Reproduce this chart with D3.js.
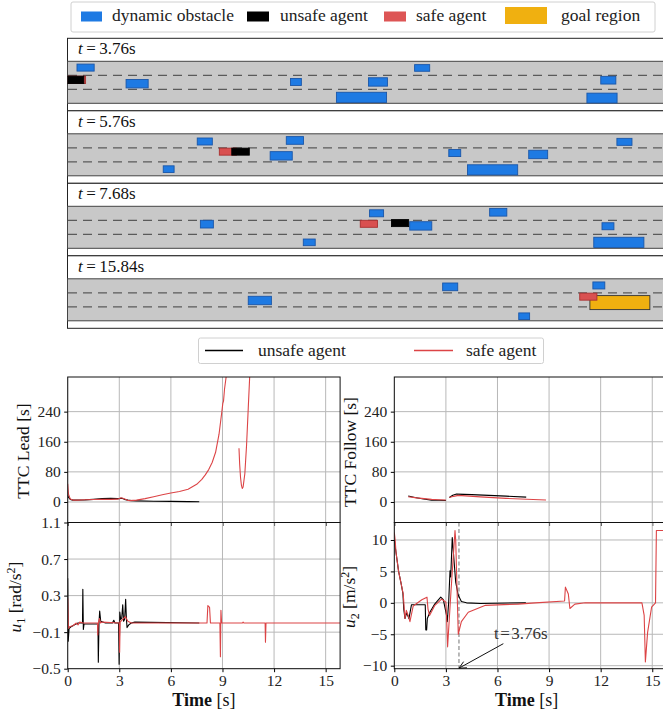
<!doctype html>
<html lang="en">
<head>
  <meta charset="utf-8">
  <title>Safe vs unsafe agent</title>
  <script src="https://cdnjs.cloudflare.com/ajax/libs/d3/7.8.5/d3.min.js"></script>
  <style>
    body{margin:0;background:#fff;}
    svg{display:block;font-family:"Liberation Serif",serif;}
    svg text{font-family:"Liberation Serif",serif;}
  </style>
</head>
<body>
<svg width="663" height="713"></svg>
<script>
// ---------- data ----------
const legendLabels=["dynamic obstacle","unsafe agent","safe agent","goal region"];
const lineLegend=["unsafe agent","safe agent"];
const snapTimes=["3.76","5.76","7.68","15.84"];

// cars: [x centre (m), lateral centre (m), length (m), width (m)]
const obstacles=[
  [[5.3,1.8,4.9,2.0],[20.0,6.4,6.3,2.4],[65.3,5.9,3.1,2.0],[88.7,5.9,5.4,2.4],[101.3,1.9,4.3,1.9],[84.0,10.3,14.3,2.9],[154.4,5.4,4.3,2.2],[152.6,10.5,8.6,2.8]],
  [[39.3,2.2,4.3,2.0],[65.0,1.9,4.9,2.2],[61.1,6.3,6.3,2.4],[29.0,10.1,3.1,1.9],[110.6,5.5,3.4,2.0],[134.4,5.9,5.4,2.4],[121.4,10.3,14.3,2.9],[159.0,2.3,4.3,2.0]],
  [[39.9,5.1,3.7,2.2],[69.1,10.3,3.4,1.9],[88.3,2.0,4.0,2.0],[100.9,5.6,6.3,2.4],[123.0,1.7,4.9,2.2],[154.3,5.7,3.4,2.0],[157.4,10.3,14.3,2.9]],
  [[55.0,6.2,6.6,2.4],[109.3,2.3,4.3,2.2],[130.4,10.7,3.1,1.9],[151.7,1.9,3.4,2.0]]
];
const unsafeCar=[[2.3,5.3,5.0,2.1],[49.5,5.1,5.0,2.0],[95.0,4.8,4.9,2.0],null];
const safeCar=[[2.8,5.3,5.0,2.1],[45.9,5.1,4.9,2.0],[86.1,5.0,4.9,2.0],[148.7,5.1,4.9,2.0]];
const goalRegion=[null,null,null,[157.7,6.8,17.1,4.0]];

// time series (null = break in the line)
const ttcLeadUnsafeT=[0,0.05,0.15,0.3,1.0,1.5,2.0,2.5,2.9,3.0,3.15,3.3,3.5,3.7,4.0,5.0,6.0,7.0,7.65];
const ttcLeadUnsafeV=[18,12,7,5,5.5,7,9,9.5,9,9,10,7,5,3.5,3,2,1.5,1,0.5];
const ttcLeadSafeT=[0,0.05,0.15,0.3,0.6,1.0,1.5,2.0,2.5,2.9,3.1,3.25,3.45,3.6,4.0,4.5,5.0,5.5,6.0,6.5,7.0,7.5,7.8,8.0,8.2,8.4,8.6,8.8,8.95,9.02,9.06,9.12,9.25,null,9.96,10.0,10.05,10.1,10.15,10.2,10.3,10.4,10.5,10.6];
const ttcLeadSafeV=[48,20,8,5,5,6,6.5,7,7,7.5,11,9,5,3.5,5,9,14,19,24,28,34,47,60,72,86,105,132,180,235,262,268,300,345,null,143,100,65,45,36,40,75,150,250,350];

const ttcFollowUnsafeT=[0.81,1.2,1.7,2.17,2.6,3.0,null,3.2,3.4,3.62,4.5,5.5,6.5,7.67];
const ttcFollowUnsafeV=[16,12,8,5,4.5,4,null,12,18,21,19.5,17.5,15.5,13];
const ttcFollowSafeT=[0.81,1.3,2.17,2.6,3.0,null,3.2,3.45,3.72,5.0,6.5,8.82];
const ttcFollowSafeV=[14,11,7,6,5.3,null,12,15,17.5,13.5,9.5,5.3];

const u1UnsafeT=[0,0.03,0.08,0.2,0.4,0.6,0.86,0.88,0.91,0.95,1.2,1.76,1.78,1.82,1.86,1.92,2.2,2.6,2.68,2.75,2.96,2.99,3.03,3.08,3.14,3.2,3.25,3.31,3.37,3.41,3.45,3.55,3.7,3.9,7.65];
const u1UnsafeV=[0.49,-0.2,-0.06,-0.04,-0.02,0.0,0.0,0.37,-0.07,-0.01,-0.01,-0.01,-0.43,0.0,0.13,0.02,0.0,0.0,0.03,0.0,0.0,-0.45,0.12,0.04,0.05,0.2,0.02,0.04,0.26,0.06,-0.05,-0.02,0.0,0.01,0.0];
const u1SafeT=[0,0.05,0.1,0.3,0.5,0.6,0.7,0.9,1.73,1.75,1.78,1.85,1.9,2.0,3.0,3.02,3.05,3.1,3.25,3.35,3.5,3.7,8.1,8.15,8.25,8.3,8.85,8.88,8.91,8.95,10.15,10.2,10.25,11.48,11.5,11.53,15.84];
const u1SafeV=[0.27,-0.06,-0.04,-0.03,0.0,-0.02,0.01,0.0,0.0,-0.13,0.0,0.05,0.0,0.01,0.0,-0.32,0.02,0.02,0.05,0.07,0.02,0.0,0.0,0.19,0.17,0.0,0.0,-0.37,0.14,0.0,0.0,0.01,0.0,0.0,-0.21,0.0,0.0];

const u2UnsafeT=[0,0.05,0.1,0.25,0.4,0.5,0.55,0.62,0.72,0.85,1.0,1.8,1.83,1.88,1.92,2.07,2.35,2.7,2.85,3.04,3.08,3.16,3.24,3.28,3.37,3.42,3.57,3.72,3.9,4.2,5.0,7.65];
const u2UnsafeV=[10,9,8,5,3,1.5,-1.0,-2.5,-1.6,-2.5,-0.3,-0.3,-4.3,-4.3,-2.5,-1.5,-0.2,0.9,0.5,-2.0,-3.0,0.0,5.1,4.1,10.4,8.6,3.3,1.2,0.2,0.0,-0.1,0.0];
const u2SafeT=[0,0.05,0.1,0.25,0.4,0.52,0.58,0.62,0.7,0.78,0.91,1.1,1.6,1.9,1.96,2.05,2.36,2.75,3.0,3.05,3.1,3.3,3.53,3.57,3.65,3.72,3.9,4.3,5.3,7.2,8.2,9.9,9.95,10.12,10.21,10.5,11.1,14.4,14.53,14.6,14.73,14.96,15.19,15.24,15.84];
const u2SafeV=[11.2,10.0,8.0,5.0,3.0,1.4,-1.0,-2.5,-1.2,-1.8,-3.0,-0.5,0.5,0.9,-1.0,-2.0,-0.4,0.6,0.1,-3.0,-7.0,2.0,11.5,10.0,2.0,-5.0,-3.0,-1.5,-0.4,-0.2,0.0,0.3,2.5,1.4,-0.9,-0.2,0.0,0.0,-2.0,-9.4,-4.7,-0.7,0.0,11.5,11.5];

const timeTicks=[0,3,6,9,12,15];
const ttcTicks=[0,80,160,240];
const u1Ticks=[-0.5,-0.1,0.3,0.7,1.1];
const u2Ticks=[-10,-5,0,5,10];
const markTime=3.76;

// ---------- styles ----------
const blue="#1e7ae3", red="#dc4446", gold="#f0b010";
const svg=d3.select("svg");
const minus=s=>String(s).replace("-","\u2212");

// ---------- top legend ----------
const leg=svg.append("g");
leg.append("rect").attr("x",71).attr("y",2).attr("width",584).attr("height",30)
  .attr("rx",2).attr("fill","#fff").attr("stroke","#d0d0d0");
const legPatch=[
  {x:81,w:21,y:11.5,h:10,fill:blue,tx:112},
  {x:247,w:22,y:11.5,h:10,fill:"#000",tx:280},
  {x:384,w:22,y:11.5,h:10,fill:"#dd5555",tx:416},
  {x:505,w:42,y:7,h:17,fill:gold,tx:561}
];
legPatch.forEach((p,i)=>{
  leg.append("rect").attr("x",p.x).attr("y",p.y).attr("width",p.w).attr("height",p.h).attr("fill",p.fill);
  leg.append("text").attr("x",p.tx).attr("y",20.5).style("font-size","17.5px").attr("fill","#222").text(legendLabels[i]);
});

// ---------- road snapshots ----------
const xRoad=d3.scaleLinear().domain([0,170]).range([67,663]);
const panelTop0=38.3, panelStep=72.5, titleH=23, roadH=42;

svg.append("clipPath").attr("id","roadclip").append("rect")
  .attr("x",67.5).attr("y",0).attr("width",600).attr("height",340);

snapTimes.forEach((st,i)=>{
  const top=panelTop0+i*panelStep;
  const roadTop=top+titleH;
  const yLat=d3.scaleLinear().domain([0,12]).range([roadTop,roadTop+roadH]);
  const g=svg.append("g");
  g.append("rect").attr("x",67.5).attr("y",top).attr("width",620).attr("height",panelStep)
    .attr("fill","#fff").attr("stroke","#222").attr("stroke-width",1);
  g.append("rect").attr("x",67.5).attr("y",roadTop).attr("width",620).attr("height",roadH)
    .attr("fill","#c8c8c8").attr("stroke","#444").attr("stroke-width",1);
  [4,8].forEach(l=>{
    g.append("line").attr("x1",68).attr("x2",663).attr("y1",yLat(l)).attr("y2",yLat(l))
      .attr("stroke","#5a5a5a").attr("stroke-width",1.3).attr("stroke-dasharray","9,6");
  });
  const title=g.append("text").attr("x",78).attr("y",top+16).style("font-size","17px").attr("fill","#111");
  title.append("tspan").attr("font-style","italic").text("t");
  title.append("tspan").attr("dx",3.5).text("=");
  title.append("tspan").attr("dx",3.5).text(st+"s");

  const cars=g.append("g").attr("clip-path","url(#roadclip)");
  const carRect=(c,fill,stroke)=>{
    cars.append("rect")
      .attr("x",xRoad(c[0]-c[2]/2)).attr("width",xRoad(c[2])-xRoad(0))
      .attr("y",yLat(c[1]-c[3]/2)).attr("height",yLat(c[3])-yLat(0))
      .attr("fill",fill).attr("stroke",stroke).attr("stroke-width",0.9);
  };
  if(goalRegion[i]) carRect(goalRegion[i],gold,"#333");
  obstacles[i].forEach(o=>carRect(o,blue,"#1a56a8"));
  if(safeCar[i]) carRect(safeCar[i],"#d95050","#a83030");
  if(unsafeCar[i]) carRect(unsafeCar[i],"#000","#000");
});

// ---------- line legend ----------
const leg2=svg.append("g");
leg2.append("rect").attr("x",198.5).attr("y",338).attr("width",345).attr("height",25.5)
  .attr("rx",2).attr("fill","#fff").attr("stroke","#d0d0d0");
leg2.append("line").attr("x1",205).attr("x2",243).attr("y1",350.5).attr("y2",350.5).attr("stroke","#000").attr("stroke-width",1.3);
leg2.append("text").attr("x",258).attr("y",355.5).style("font-size","17.5px").attr("fill","#222").text(lineLegend[0]);
leg2.append("line").attr("x1",414).attr("x2",453).attr("y1",350.5).attr("y2",350.5).attr("stroke",red).attr("stroke-width",1.3);
leg2.append("text").attr("x",466).attr("y",355.5).style("font-size","17.5px").attr("fill","#222").text(lineLegend[1]);

// ---------- charts ----------
const xL=d3.scaleLinear().domain([0,15.84]).range([67.7,340.1]);
const xR=d3.scaleLinear().domain([0,15.84]).range([394.3,666.7]);
const topY0=377, midY=522.5, botY1=668.7;
const yTTC=d3.scaleLinear().domain([-54.5,332]).range([midY,topY0]);
const yU1=d3.scaleLinear().domain([-0.5,1.1]).range([botY1,midY]);
const yU2=d3.scaleLinear().domain([-10.48,12.78]).range([botY1,midY]);

const zip=(t,v)=>t.map((d,i)=>({t:d,v:v[i]}));

const charts=[
  {id:"c1",x:xL,y:yTTC,ticks:ttcTicks,fmt:d=>String(d),bottom:false,
   series:[zip(ttcLeadUnsafeT,ttcLeadUnsafeV),zip(ttcLeadSafeT,ttcLeadSafeV)]},
  {id:"c2",x:xR,y:yTTC,ticks:ttcTicks,fmt:d=>String(d),bottom:false,
   series:[zip(ttcFollowUnsafeT,ttcFollowUnsafeV),zip(ttcFollowSafeT,ttcFollowSafeV)]},
  {id:"c3",x:xL,y:yU1,ticks:u1Ticks,fmt:d=>minus(d.toFixed(1)),bottom:true,
   series:[zip(u1UnsafeT,u1UnsafeV),zip(u1SafeT,u1SafeV)]},
  {id:"c4",x:xR,y:yU2,ticks:u2Ticks,fmt:d=>minus(d),bottom:true,
   series:[zip(u2UnsafeT,u2UnsafeV),zip(u2SafeT,u2SafeV)]}
];
const colors=["#000",red];

charts.forEach(c=>{
  const [x0,x1]=c.x.range(), [y1,y0]=c.y.range();
  const g=svg.append("g");
  svg.append("clipPath").attr("id",c.id).append("rect")
    .attr("x",x0).attr("y",y0).attr("width",x1-x0).attr("height",y1-y0);
  const inner=g.append("g").attr("clip-path",`url(#${c.id})`);
  // grid
  timeTicks.forEach(t=>inner.append("line").attr("x1",c.x(t)).attr("x2",c.x(t)).attr("y1",y0).attr("y2",y1)
    .attr("stroke","#b8b8b8").attr("stroke-width",1));
  c.ticks.forEach(v=>inner.append("line").attr("x1",x0).attr("x2",x1).attr("y1",c.y(v)).attr("y2",c.y(v))
    .attr("stroke","#b8b8b8").attr("stroke-width",1));
  if(c.id==="c4"){
    inner.append("line").attr("x1",c.x(markTime)).attr("x2",c.x(markTime)).attr("y1",y0).attr("y2",y1)
      .attr("stroke","#8a8a8a").attr("stroke-width",1.2).attr("stroke-dasharray","4,2.5");
  }
  const line=d3.line().defined(d=>d.v!==null).x(d=>c.x(d.t)).y(d=>c.y(d.v));
  c.series.forEach((s,i)=>{
    inner.append("path").datum(s).attr("d",line).attr("fill","none")
      .attr("stroke",colors[i]).attr("stroke-width",1.1).attr("stroke-linejoin","round");
  });
  // frame
  g.append("rect").attr("x",x0).attr("y",y0).attr("width",x1-x0).attr("height",y1-y0)
    .attr("fill","none").attr("stroke","#111").attr("stroke-width",1);
  // y axis
  const ya=g.append("g").attr("transform",`translate(${x0},0)`)
    .call(d3.axisLeft(c.y).tickValues(c.ticks).tickSize(3.5).tickPadding(3.5).tickFormat(c.fmt));
  ya.attr("font-family",null);
  ya.select(".domain").remove();
  ya.selectAll("text").style("font-size","15.5px").attr("fill","#222");
  // x axis
  const xa=g.append("g").attr("transform",`translate(0,${y1})`)
    .call(d3.axisBottom(c.x).tickValues(timeTicks).tickSize(3.5).tickPadding(3).tickFormat(c.bottom?d=>String(d):""));
  xa.attr("font-family",null);
  xa.select(".domain").remove();
  xa.selectAll("text").style("font-size","15.5px").attr("fill","#222");
  if(c.bottom){
    const lab=g.append("text").attr("x",(x0+Math.min(x1,663))/2+(c.id==="c4"?-2:0)).attr("y",706)
      .attr("text-anchor","middle").style("font-size","18px").attr("fill","#111");
    lab.append("tspan").attr("font-weight","bold").text("Time");
    lab.append("tspan").text(" [s]");
  }
});

// y labels
function yLabel(x,y,build){
  const t=svg.append("text").attr("transform",`translate(${x},${y}) rotate(-90)`)
    .attr("text-anchor","middle").style("font-size","17.5px").attr("fill","#111");
  build(t);
}
yLabel(29,451,t=>t.text("TTC Lead [s]"));
yLabel(356,452,t=>t.text("TTC Follow [s]"));
yLabel(21,597,t=>{
  t.append("tspan").attr("font-style","italic").text("u");
  t.append("tspan").attr("dy",4).style("font-size","12px").text("1");
  t.append("tspan").attr("dy",-4).text(" [rad/s");
  t.append("tspan").attr("dy",-6).style("font-size","12px").text("2");
  t.append("tspan").attr("dy",6).text("]");
});
yLabel(355,597,t=>{
  t.append("tspan").attr("font-style","italic").text("u");
  t.append("tspan").attr("dy",4).style("font-size","12px").text("2");
  t.append("tspan").attr("dy",-4).text(" [m/s");
  t.append("tspan").attr("dy",-6).style("font-size","12px").text("2");
  t.append("tspan").attr("dy",6).text("]");
});

// annotation at t=3.76 s
const ax0=xR(6.34), ay0=yU2(-6.5), ax1=xR(markTime), ay1=yU2(-10.4);
svg.append("line").attr("x1",ax0).attr("y1",ay0).attr("x2",ax1).attr("y2",ay1)
  .attr("stroke","#111").attr("stroke-width",1);
const ang=Math.atan2(ay0-ay1,ax0-ax1);
[0.45,-0.45].forEach(a=>{
  svg.append("line").attr("x1",ax1).attr("y1",ay1)
    .attr("x2",ax1+8*Math.cos(ang+a)).attr("y2",ay1+8*Math.sin(ang+a))
    .attr("stroke","#111").attr("stroke-width",1);
});
const ann=svg.append("text").attr("x",xR(5.8)).attr("y",yU2(-5.7)).style("font-size","17px").attr("fill","#333");
ann.append("tspan").text("t");
ann.append("tspan").attr("dx",1.5).text("=");
ann.append("tspan").attr("dx",1.5).text(markTime+"s");
</script>
</body>
</html>
